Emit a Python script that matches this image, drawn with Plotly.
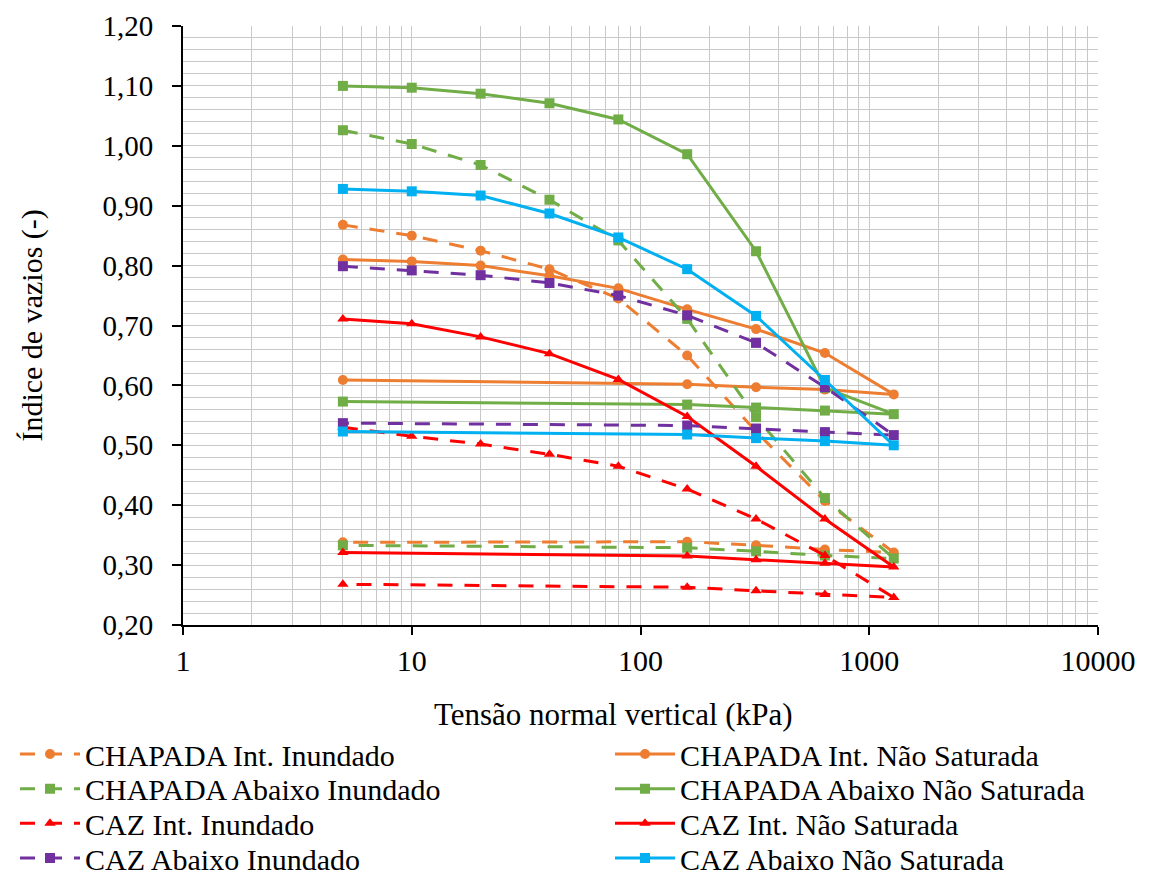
import plotly.graph_objects as go

pressure = [5, 10, 20, 40, 80, 160, 320, 640, 1280, 640, 320, 160, 5]

chapada_int_inund = [0.868, 0.850, 0.825, 0.794, 0.745, 0.650, 0.523, 0.407, 0.321, 0.326, 0.333, 0.339, 0.338]
chapada_int_nsat = [0.810, 0.807, 0.800, 0.783, 0.762, 0.727, 0.694, 0.654, 0.585, 0.593, 0.597, 0.602, 0.609]
chapada_abx_inund = [1.026, 1.003, 0.968, 0.910, 0.842, 0.711, 0.547, 0.412, 0.311, 0.316, 0.323, 0.329, 0.333]
chapada_abx_nsat = [1.100, 1.097, 1.087, 1.071, 1.044, 0.986, 0.824, 0.596, 0.552, 0.558, 0.563, 0.568, 0.573]
caz_int_inund = [0.530, 0.515, 0.502, 0.485, 0.465, 0.427, 0.377, 0.316, 0.246, 0.251, 0.257, 0.263, 0.268]
caz_int_nsat = [0.711, 0.703, 0.681, 0.653, 0.610, 0.548, 0.465, 0.377, 0.297, 0.303, 0.309, 0.315, 0.321]
caz_abx_inund = [0.799, 0.792, 0.784, 0.771, 0.750, 0.717, 0.671, 0.597, 0.517, 0.522, 0.528, 0.533, 0.537]
caz_abx_nsat = [0.928, 0.924, 0.917, 0.887, 0.847, 0.794, 0.716, 0.609, 0.500, 0.507, 0.512, 0.518, 0.523]

x_tick_vals = [1, 10, 100, 1000, 10000]
x_tick_text = ["1", "10", "100", "1000", "10000"]

ORANGE = "#ED7D31"
GREEN = "#70AD47"
RED = "#FF0000"
PURPLE = "#7030A0"
CYAN = "#00B0F0"
DASH = "15px,12px"

# (name, values, colour, dash, symbol, legend column, legend row)
series = [
    ("CHAPADA Int. Inundado", chapada_int_inund, ORANGE, DASH, "circle", 0, 0),
    ("CHAPADA Int. Não Saturada", chapada_int_nsat, ORANGE, "solid", "circle", 1, 0),
    ("CHAPADA Abaixo Inundado", chapada_abx_inund, GREEN, DASH, "square", 0, 1),
    ("CHAPADA Abaixo Não Saturada", chapada_abx_nsat, GREEN, "solid", "square", 1, 1),
    ("CAZ Int. Inundado", caz_int_inund, RED, DASH, "triangle-up", 0, 2),
    ("CAZ Int. Não Saturada", caz_int_nsat, RED, "solid", "triangle-up", 1, 2),
    ("CAZ Abaixo Inundado", caz_abx_inund, PURPLE, DASH, "square", 0, 3),
    ("CAZ Abaixo Não Saturada", caz_abx_nsat, CYAN, "solid", "square", 1, 3),
]

FONT = "Liberation Serif"
GRID = "#C8C8C8"
# the page body adds an 8px margin, so the figure is 8px smaller each way
W, H = 1143, 869
LEG_X = [7, 602]             # legend box left, px
LEG_Y0, LEG_DY = 746, 34.67  # first row centre and row spacing, px

fig = go.Figure()
legends = {}
for i, (name, vals, color, dash, sym, col, row) in enumerate(series):
    key = "legend" if i == 0 else f"legend{i + 1}"
    fig.add_trace(go.Scatter(
        x=pressure, y=vals, name=name, mode="lines+markers",
        line=dict(color=color, width=3, dash=dash),
        marker=dict(symbol=sym, size=10, color=color),
        legend=key,
    ))
    legends[key] = dict(
        xref="container", yref="container",
        x=LEG_X[col] / W, xanchor="left",
        y=1 - (LEG_Y0 + row * LEG_DY) / H, yanchor="middle",
        orientation="v", itemwidth=60, itemclick=False, itemdoubleclick=False,
        font=dict(family=FONT, size=30, color="black"),
        bgcolor="rgba(0,0,0,0)", borderwidth=0,
    )

fig.update_layout(
    width=W, height=H,
    margin=dict(l=175, r=53, t=18, b=252, autoexpand=False),
    paper_bgcolor="white", plot_bgcolor="white",
    separators=",.",
    font=dict(family=FONT, size=30, color="black"),
    showlegend=True,
    xaxis=dict(
        type="log", range=[0, 4],
        tickvals=x_tick_vals, ticktext=x_tick_text,
        showline=True, linecolor="black", linewidth=2,
        ticks="outside", ticklen=8, tickwidth=2, tickcolor="black",
        ticklabelstandoff=0, ticklabeloverflow="allow",
        showgrid=True, gridcolor=GRID, gridwidth=1,
        minor=dict(showgrid=True, gridcolor=GRID, gridwidth=1, dtick="D1", ticks=""),
        tickfont=dict(family=FONT, size=30),
        zeroline=False, automargin=False,
    ),
    yaxis=dict(
        range=[0.2, 1.2], dtick=0.1, tick0=0.2, tickformat=".2f",
        showline=True, linecolor="black", linewidth=2,
        ticks="outside", ticklen=9, tickwidth=2, tickcolor="black",
        ticklabelstandoff=13, ticklabeloverflow="allow",
        showgrid=True, gridcolor=GRID, gridwidth=1,
        minor=dict(showgrid=True, gridcolor=GRID, gridwidth=1, dtick=0.02, ticks=""),
        tickfont=dict(family=FONT, size=29),
        zeroline=False, automargin=False,
    ),
    annotations=[
        dict(text="Tensão normal vertical (kPa)", xref="paper", yref="paper",
             x=0.47, y=-0.149, xanchor="center", yanchor="middle",
             showarrow=False, font=dict(family=FONT, size=31)),
        dict(text="Índice de vazios (-)", xref="paper", yref="paper",
             x=-0.166, y=0.5, xanchor="center", yanchor="middle", textangle=-90,
             showarrow=False, font=dict(family=FONT, size=30)),
    ],
    **legends,
)

fig.write_html("out.html")
